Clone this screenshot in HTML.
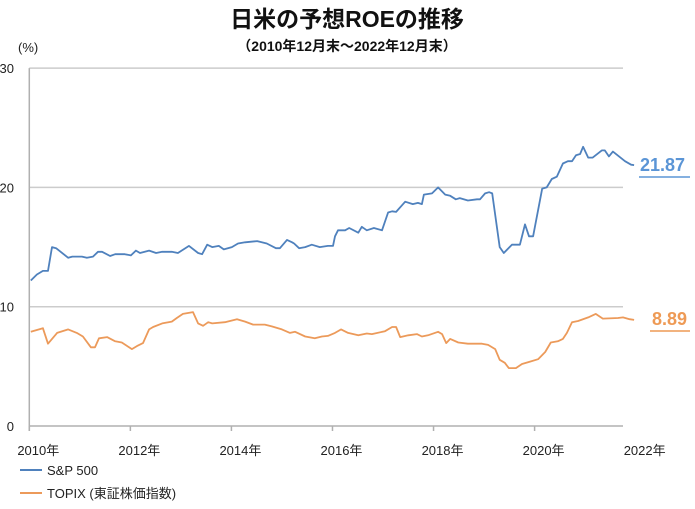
<!DOCTYPE html>
<html><head><meta charset="utf-8"><style>
body{margin:0;background:#fff;}
svg text{font-family:"Liberation Sans","Noto Sans CJK JP",sans-serif;}
</style></head><body>
<svg width="695" height="504" viewBox="0 0 695 504">
<text x="347" y="27" text-anchor="middle" font-size="23" font-weight="bold" fill="#111">日米の予想ROEの推移</text>
<text x="347" y="51" text-anchor="middle" font-size="14" font-weight="bold" fill="#111">（2010年12月末～2022年12月末）</text>
<text x="18" y="52" font-size="13" fill="#222">(%)</text>
<g id="axes"></g>
<g id="series"></g>
<line x1="20" y1="470" x2="42" y2="470" stroke="#4f81bd" stroke-width="2"/>
<text x="47" y="475" font-size="13" fill="#222">S&amp;P 500</text>
<line x1="20" y1="493" x2="42" y2="493" stroke="#ec9a5a" stroke-width="2"/>
<text x="47" y="498" font-size="13" fill="#222">TOPIX (東証株価指数)</text>
<text x="640" y="171" font-size="18" font-weight="bold" fill="#5b95d6">21.87</text>
<line x1="639" y1="177" x2="690" y2="177" stroke="#5b95d6" stroke-width="1.5"/>
<text x="652" y="325" font-size="18" font-weight="bold" fill="#ee9a55">8.89</text>
<line x1="650" y1="331" x2="690" y2="331" stroke="#ee9a55" stroke-width="1.5"/>
</svg>
<script>
const yTicks=[0,10,20,30];
const xTickYears=[2010,2012,2014,2016,2018,2020,2022];
const spT=[.03,.15,.27,.37,.45,.53,.77,.85,1.04,1.14,1.26,1.36,1.44,1.60,1.70,1.89,2.01,2.11,2.19,2.37,2.51,2.63,2.82,2.94,3.16,3.34,3.42,3.52,3.62,3.75,3.85,4.01,4.13,4.27,4.51,4.70,4.88,4.96,5.10,5.20,5.24,5.34,5.46,5.59,5.75,5.91,6.01,6.05,6.11,6.25,6.33,6.51,6.58,6.68,6.82,6.98,7.10,7.18,7.26,7.44,7.59,7.69,7.77,7.81,7.97,8.09,8.23,8.33,8.44,8.52,8.68,8.86,8.92,9.02,9.10,9.16,9.31,9.39,9.55,9.71,9.81,9.89,9.97,10.15,10.24,10.34,10.44,10.56,10.66,10.74,10.82,10.90,10.96,11.06,11.15,11.33,11.39,11.47,11.55,11.79,11.91,11.97];
const spV=[12.2,12.7,13.0,13.0,15.0,14.9,14.1,14.2,14.2,14.1,14.2,14.6,14.6,14.25,14.4,14.4,14.3,14.7,14.5,14.7,14.5,14.6,14.6,14.5,15.1,14.5,14.4,15.2,15.0,15.1,14.8,15.0,15.3,15.4,15.5,15.3,14.9,14.9,15.6,15.4,15.3,14.9,15.0,15.2,15.0,15.1,15.1,15.9,16.4,16.4,16.6,16.2,16.7,16.4,16.6,16.4,17.9,18.0,17.95,18.8,18.6,18.7,18.6,19.4,19.5,20.0,19.4,19.3,19.0,19.1,18.9,19.0,19.0,19.5,19.6,19.5,15.0,14.5,15.2,15.2,16.9,15.9,15.9,19.9,20.0,20.7,20.9,22.0,22.2,22.2,22.7,22.8,23.4,22.5,22.5,23.1,23.1,22.6,23.0,22.2,21.9,21.87];
const tpT=[.03,.27,.37,.55,.77,.94,1.06,1.22,1.30,1.38,1.54,1.70,1.83,2.03,2.13,2.25,2.37,2.45,2.63,2.82,2.92,3.04,3.24,3.34,3.44,3.54,3.62,3.87,4.11,4.27,4.43,4.66,4.80,5.00,5.16,5.26,5.46,5.65,5.79,5.91,6.05,6.17,6.31,6.51,6.68,6.78,7.04,7.18,7.26,7.34,7.50,7.67,7.77,7.89,8.09,8.17,8.25,8.33,8.49,8.68,8.96,9.08,9.22,9.31,9.41,9.49,9.63,9.75,9.91,10.07,10.21,10.32,10.46,10.56,10.64,10.74,10.86,11.06,11.21,11.35,11.65,11.75,11.88,11.97];
const tpV=[7.9,8.2,6.9,7.8,8.1,7.8,7.5,6.6,6.6,7.35,7.45,7.1,7.0,6.45,6.7,6.95,8.1,8.3,8.6,8.75,9.05,9.4,9.55,8.6,8.4,8.7,8.6,8.7,8.95,8.75,8.5,8.5,8.35,8.1,7.8,7.9,7.5,7.35,7.5,7.55,7.8,8.1,7.8,7.6,7.75,7.7,7.95,8.3,8.3,7.45,7.6,7.7,7.5,7.6,7.9,7.7,6.95,7.3,7.0,6.9,6.9,6.8,6.45,5.55,5.3,4.85,4.85,5.2,5.4,5.6,6.2,7.0,7.1,7.3,7.8,8.7,8.8,9.1,9.4,9.0,9.05,9.1,8.95,8.89];
const NS='http://www.w3.org/2000/svg';
const X0=29.3,PXY=50.53,Y0=426,PXV=11.93,XEND=623;
const xs=t=>X0+t*PXY, ys=v=>Y0-v*PXV;
const ax=document.getElementById('axes'), sg=document.getElementById('series');
function mk(tag,attrs,parent){const e=document.createElementNS(NS,tag);for(const k in attrs)e.setAttribute(k,attrs[k]);parent.appendChild(e);return e;}
yTicks.forEach(v=>{
  const l=mk('line',{x1:X0,x2:XEND,y1:ys(v),y2:ys(v),stroke:v===0?'#b0b0b0':'#cccccc','stroke-width':1.5},ax);
  
  
  const t=mk('text',{x:14,y:ys(v)+5,'text-anchor':'end','font-size':13,fill:'#222'},ax);
  t.textContent=v;
  
  
});
const ya=mk('line',{x1:X0,x2:X0,y1:ys(30),y2:Y0+5,stroke:'#b0b0b0','stroke-width':1.5},ax);


xTickYears.forEach(y=>{
  const x=xs(y-2010);
  if(y<2022){const tk=mk('line',{x1:x,x2:x,y1:Y0,y2:Y0+5,stroke:'#b0b0b0','stroke-width':1.5},ax);
  
  }
  const t=mk('text',{x:x+9,y:455,'text-anchor':'middle','font-size':13,fill:'#222'},ax);
  t.textContent=y+'年';
  
  
});
function line(T,V,color,name){
  const d=T.map((t,i)=>(i?'L':'M')+xs(t).toFixed(1)+','+ys(V[i]).toFixed(1)).join('');
  const p=mk('path',{d:d,fill:'none',stroke:color,'stroke-width':1.8,'stroke-linejoin':'round'},sg);
  
  
}
line(spT,spV,'#4f81bd','sp500-line');
line(tpT,tpV,'#ec9a5a','topix-line');
</script>
</body></html>
